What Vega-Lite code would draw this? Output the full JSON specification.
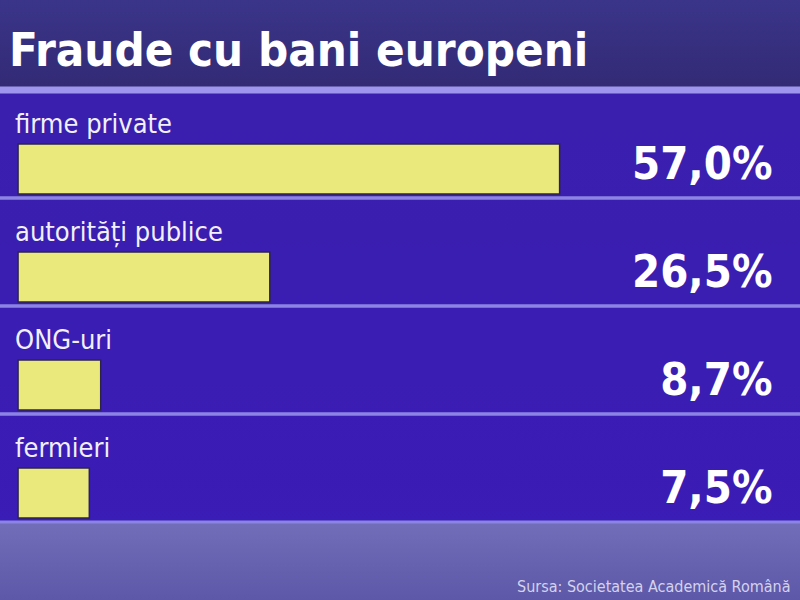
{
  "$schema": "https://vega.github.io/schema/vega-lite/v6.json",
  "width": 800,
  "height": 600,
  "autosize": "none",
  "padding": 0,
  "background": "#3a3388",
  "config": {
    "locale": {"number": {"decimal": ",", "thousands": ".", "grouping": [3], "currency": ["", " €"]}},
    "view": {"stroke": null},
    "font": "DejaVu Sans Condensed, sans-serif"
  },
  "view": {
    "fill": {
      "gradient": "linear",
      "x1": 0, "y1": 0, "x2": 0, "y2": 1,
      "stops": [
        {"offset": 0, "color": "#3b358a"},
        {"offset": 0.148, "color": "#322a74"},
        {"offset": 0.148, "color": "#3a1fae"},
        {"offset": 0.87, "color": "#3a1cb6"},
        {"offset": 0.87, "color": "#726eb8"},
        {"offset": 1, "color": "#5d58a8"}
      ]
    }
  },
  "title": {
    "text": "Fraude cu bani europeni",
    "anchor": "start",
    "frame": "group",
    "orient": "top",
    "offset": -62,
    "dy": 51,
    "baseline": "alphabetic",
    "dx": 9,
    "fontSize": 47,
    "fontWeight": "bold",
    "color": "#ffffff",
    "font": "DejaVu Sans Condensed, sans-serif"
  },
  "data": {
    "values": [
      {"cat": "firme private", "share": 0.57},
      {"cat": "autorități publice", "share": 0.265},
      {"cat": "ONG-uri", "share": 0.087},
      {"cat": "fermieri", "share": 0.075}
    ]
  },
  "encoding": {
    "y": {
      "field": "cat",
      "type": "nominal",
      "sort": null,
      "scale": {"range": [90, 522], "paddingInner": 0, "paddingOuter": 0},
      "axis": null
    }
  },
  "layer": [
    {
      "mark": {"type": "rule", "color": "#8c84e4", "strokeWidth": 3},
      "encoding": {"y": {"field": "cat", "type": "nominal", "sort": null, "bandPosition": 0}}
    },
    {
      "mark": {"type": "rule", "color": "#8c84e4", "strokeWidth": 3},
      "encoding": {"y": {"field": "cat", "type": "nominal", "sort": null, "bandPosition": 1}}
    },
    {
      "transform": [{"filter": "datum.cat === 'firme private'"}],
      "mark": {"type": "rule", "color": "#9d95ee", "strokeWidth": 7},
      "encoding": {"y": {"field": "cat", "type": "nominal", "sort": null, "bandPosition": 0}}
    },
    {
      "mark": {"type": "bar", "height": 50, "yOffset": 25, "color": "#e9e97c", "stroke": "#2e2350", "strokeWidth": 1.5},
      "encoding": {
        "x": {
          "field": "share",
          "type": "quantitative",
          "scale": {"domain": [-0.019, 0.823], "nice": false, "zero": false},
          "axis": {
            "labels": false, "ticks": false, "domain": false, "grid": false,
            "title": "Sursa: Societatea Academică Română",
            "titleX": 790, "titleY": -9, "titleAlign": "right", "titleAnchor": null,
            "titleBaseline": "alphabetic", "titleFontSize": 16, "titleFontWeight": "normal",
            "titleColor": "#d4d2ee"
          }
        },
        "x2": {"datum": 0}
      }
    },
    {
      "mark": {"type": "text", "align": "left", "baseline": "alphabetic", "yOffset": -11, "dx": -3, "fontSize": 27, "color": "#f2f0fc"},
      "encoding": {
        "x": {"datum": 0, "type": "quantitative"},
        "text": {"field": "cat"}
      }
    },
    {
      "mark": {"type": "text", "align": "right", "baseline": "middle", "yOffset": 21, "fontSize": 45, "fontWeight": "bold", "color": "#ffffff"},
      "encoding": {
        "x": {"datum": 0.794, "type": "quantitative"},
        "text": {"field": "share", "format": ".1%"}
      }
    }
  ]
}
